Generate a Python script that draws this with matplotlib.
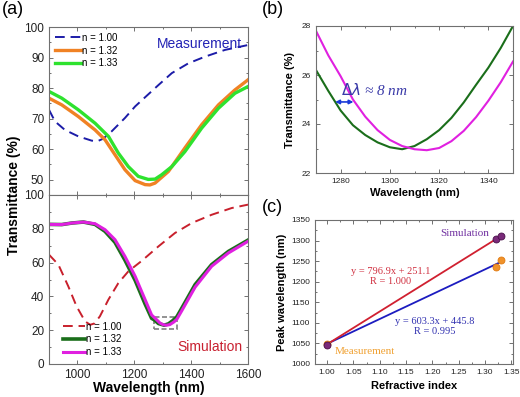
import matplotlib
matplotlib.use("Agg")
import matplotlib.pyplot as plt
import numpy as np
from matplotlib.ticker import MultipleLocator
from matplotlib.patches import Rectangle

plt.rcParams['font.family'] = ['Liberation Sans', 'DejaVu Sans']

m100_wl = [900, 921, 956, 1003, 1050, 1070, 1090, 1120, 1167, 1203, 1238, 1285, 1332, 1390, 1449, 1519, 1600]
m100_T = [72.9, 69.1, 66.3, 64.2, 62.8, 62.6, 63.4, 65.8, 70.2, 74.0, 77.0, 81.0, 84.9, 88.1, 90.3, 92.5, 94.1]
m132_wl = [900, 945, 1003, 1062, 1097, 1132, 1167, 1203, 1238, 1255, 1273, 1320, 1378, 1437, 1496, 1554, 1600]
m132_T = [76.7, 74.5, 70.7, 66.3, 63.1, 58.2, 53.3, 49.7, 48.4, 48.3, 48.9, 52.7, 60.4, 68.0, 74.5, 79.4, 82.7]
m133_wl = [900, 945, 1003, 1062, 1109, 1144, 1179, 1214, 1249, 1273, 1296, 1332, 1378, 1437, 1496, 1554, 1600]
m133_T = [78.9, 76.7, 72.9, 68.5, 64.2, 58.7, 54.3, 51.1, 50.1, 50.2, 51.6, 54.3, 59.2, 66.9, 73.4, 78.3, 80.5]

# Panel (a) bottom - simulation
s100_wl = [900, 933, 968, 997, 1027, 1045, 1060, 1079, 1109, 1144, 1179, 1226, 1285, 1343, 1402, 1472, 1543, 1600]
s100_T = [64.7, 58.8, 45.9, 34.1, 25.2, 23.2, 24.0, 28.2, 38.1, 47.9, 54.8, 61.0, 69.6, 77.5, 83.4, 88.3, 92.3, 94.3]
s132_wl = [900, 945, 980, 1021, 1062, 1097, 1132, 1167, 1203, 1238, 1261, 1270, 1285, 1305, 1320, 1335, 1350, 1367, 1414, 1472, 1531, 1600]
s132_T = [82.6, 82.5, 83.4, 84.0, 82.6, 78.5, 72.0, 61.5, 49.5, 35.5, 27.0, 26.2, 23.95, 22.97, 23.75, 25.6, 28.0, 33.0, 47.0, 58.8, 66.6, 73.3]
s133_wl = [900, 945, 980, 1021, 1062, 1097, 1132, 1167, 1203, 1238, 1261, 1275, 1290, 1300, 1313, 1325, 1340, 1350, 1367, 1414, 1472, 1531, 1600]
s133_T = [82.6, 82.5, 83.4, 84.0, 83.0, 79.5, 73.6, 63.7, 51.9, 38.1, 29.0, 26.8, 24.3, 23.35, 22.93, 23.3, 24.95, 26.55, 31.5, 45.5, 57.8, 65.7, 72.6]

# Panel (b) - zoom on simulated dip
zoom_wl = [1270, 1275, 1280, 1285, 1290, 1295, 1300, 1305, 1310, 1315, 1320, 1325, 1330, 1335, 1340, 1345, 1350]
zoom_132 = [26.2, 25.35, 24.55, 23.95, 23.55, 23.25, 23.05, 22.97, 23.1, 23.38, 23.75, 24.25, 24.88, 25.6, 26.3, 27.1, 28.0]
zoom_133 = [27.8, 26.8, 25.95, 25.0, 24.3, 23.75, 23.35, 23.1, 22.97, 22.93, 23.02, 23.3, 23.72, 24.28, 24.95, 25.7, 26.55]

# Panel (c) - peak wavelength vs refractive index
n_index = [1.00, 1.32, 1.33]
peak_sim = [1047, 1303, 1311]
peak_meas = [1048, 1235, 1253]
fit_sim = [796.9, 251.1]
fit_meas = [603.3, 445.8]

W, H = 520, 397
fig = plt.figure(figsize=(W / 100, H / 100), dpi=100)

def box(l, t, r, b):
    return [l / W, 1 - b / H, (r - l) / W, (b - t) / H]

frame = '#707070'

def style(ax, size):
    for s in ax.spines.values():
        s.set_color(frame)
        s.set_linewidth(0.8)
    ax.tick_params(which='both', direction='in', top=True, right=True, color=frame,
                   labelsize=size, labelcolor='#222222', width=0.7)
    ax.tick_params(which='major', length=3)
    ax.tick_params(which='minor', length=1.6)

# (a) top
ax1 = fig.add_axes(box(49, 27, 248, 195))
ax1.plot(m100_wl, m100_T, color='#1c1ca8', lw=1.4, dashes=(5, 3), label='n = 1.00')
ax1.plot(m132_wl, m132_T, color='#f08224', lw=2.4, label='n = 1.32')
ax1.plot(m133_wl, m133_T, color='#2ee22e', lw=2.4, label='n = 1.33')
ax1.set_xlim(900, 1600)
ax1.set_ylim(45, 100)
ax1.xaxis.set_major_locator(MultipleLocator(200))
ax1.xaxis.set_minor_locator(MultipleLocator(100))
ax1.yaxis.set_minor_locator(MultipleLocator(5))
ax1.set_yticks([50, 60, 70, 80, 90, 100])
style(ax1, 8.5)
ax1.tick_params(labelbottom=False)
ax1.legend(loc='upper left', frameon=False, fontsize=7, handlelength=2.7, handletextpad=0.1,
           labelspacing=0.28, borderaxespad=0.2, bbox_to_anchor=(0.0, 1.0))
ax1.text(0.97, 0.9, 'Measurement', transform=ax1.transAxes, ha='right', va='center',
         color='#2222b4', fontsize=10)

# (a) bottom
ax2 = fig.add_axes(box(49, 195, 248, 364))
ax2.plot(s100_wl, s100_T, color='#c8202c', lw=1.4, dashes=(5, 3), label='n = 1.00')
ax2.plot(s132_wl, s132_T, color='#1a6e1a', lw=2.6, label='n = 1.32')
ax2.plot(s133_wl, s133_T, color='#e020e0', lw=2.2, label='n = 1.33')
ax2.add_patch(Rectangle((1270, 21), 80, 7, fill=False, ec='#808080', lw=1.2, ls=(0, (3, 1.5))))
ax2.set_xlim(900, 1600)
ax2.set_ylim(0, 100)
ax2.xaxis.set_major_locator(MultipleLocator(200))
ax2.xaxis.set_minor_locator(MultipleLocator(100))
ax2.yaxis.set_major_locator(MultipleLocator(20))
ax2.yaxis.set_minor_locator(MultipleLocator(10))
style(ax2, 8.5)
ax2.legend(loc='lower left', frameon=False, fontsize=7, handlelength=2.3, handletextpad=0.1,
           labelspacing=0.28, borderaxespad=0.3, bbox_to_anchor=(0.035, 0.0))
ax2.text(0.97, 0.1, 'Simulation', transform=ax2.transAxes, ha='right', va='center',
         color='#c82030', fontsize=10)
ax2.set_xlabel('Wavelength (nm)', fontsize=10, fontweight='bold', labelpad=0)
fig.text(14 / W, 1 - 195 / H, 'Transmittance (%)', rotation=90, ha='center', va='center',
         fontsize=10, fontweight='bold')

# (b)
ax3 = fig.add_axes(box(316, 26, 513, 173))
ax3.plot(zoom_wl, zoom_132, color='#1a6e1a', lw=1.5)
ax3.plot(zoom_wl, zoom_133, color='#e020e0', lw=1.5)
ax3.annotate('', xy=(1277.8, 24.9), xytext=(1285.2, 24.9),
             arrowprops=dict(arrowstyle='<|-|>', color='#1a3ad8', lw=1.2,
                             mutation_scale=6, shrinkA=0, shrinkB=0))
ax3.text(1280.3, 25.4, r'$\Delta\lambda$ ≈ 8 nm', color='#3a3aa8', fontsize=11,
         family=['Liberation Serif', 'DejaVu Serif'], style='italic', va='center')
ax3.set_xlim(1270, 1350)
ax3.set_ylim(22, 28)
ax3.xaxis.set_major_locator(MultipleLocator(20))
ax3.xaxis.set_minor_locator(MultipleLocator(10))
ax3.yaxis.set_major_locator(MultipleLocator(2))
ax3.yaxis.set_minor_locator(MultipleLocator(1))
style(ax3, 6)
ax3.set_xlabel('Wavelength (nm)', fontsize=8, fontweight='bold', labelpad=2)
ax3.set_ylabel('Transmittance (%)', fontsize=8, fontweight='bold', labelpad=5)

# (c)
ax4 = fig.add_axes(box(315, 220, 513, 364))
xs = np.array([n_index[0], n_index[-1]])
ax4.plot(xs, fit_meas[0] * xs + fit_meas[1], color='#1c1cc0', lw=1.3)
ax4.plot(xs, fit_sim[0] * xs + fit_sim[1], color='#d02030', lw=1.3)
ax4.plot(n_index, peak_meas, 'o', color='#f0922a', ms=5, mec='#e07a10', mew=0.6)
ax4.plot(n_index, peak_sim, 'o', color='#7a2a7a', ms=5, mec='#4a104a', mew=0.6)
serif = ['Liberation Serif', 'DejaVu Serif']
ax4.text(1.261, 1318, 'Simulation', color='#7030a0', fontsize=8, family=serif,
         ha='center', va='center')
ax4.text(1.121, 1213, 'y = 796.9x + 251.1\nR = 1.000', color='#d03040', fontsize=7.5,
         family=serif, ha='center', va='center', linespacing=1.1)
ax4.text(1.205, 1091, 'y = 603.3x + 445.8\nR = 0.995', color='#3030b0', fontsize=7.5,
         family=serif, ha='center', va='center', linespacing=1.1)
ax4.text(1.072, 1030, 'Measurement', color='#f0a030', fontsize=8, family=serif,
         ha='center', va='center')
ax4.set_xlim(0.977, 1.353)
ax4.set_ylim(1000, 1350)
ax4.xaxis.set_minor_locator(MultipleLocator(0.025))
ax4.yaxis.set_major_locator(MultipleLocator(50))
ax4.yaxis.set_minor_locator(MultipleLocator(25))
ax4.set_xticks([1.00, 1.05, 1.10, 1.15, 1.20, 1.25, 1.30, 1.35])
ax4.set_xticklabels(['1.00', '1.05', '1.10', '1.15', '1.20', '1.25', '1.30', '1.35'])
style(ax4, 6)
ax4.set_xlabel('Refractive index', fontsize=8, fontweight='bold', labelpad=4)
ax4.set_ylabel('Peak wavelength (nm)', fontsize=8, fontweight='bold', labelpad=3)

fig.text(2 / W, 1 - 1 / H, '(a)', fontsize=13, va='top', ha='left')
fig.text(262 / W, 1 - 1 / H, '(b)', fontsize=13, va='top', ha='left')
fig.text(262 / W, 1 - 199 / H, '(c)', fontsize=13, va='top', ha='left')

fig.savefig('out.png', dpi=100)
